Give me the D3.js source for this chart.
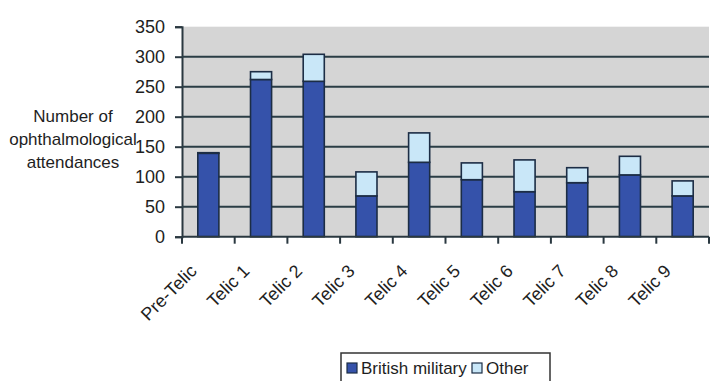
<!DOCTYPE html>
<html>
<head>
<meta charset="utf-8">
<script src="https://cdn.jsdelivr.net/npm/d3@7"></script>
<style>
  html, body { margin: 0; padding: 0; background: #fff; }
  svg { display: block; font-family: Arial, "Liberation Sans", sans-serif; }
</style>
</head>
<body>
<svg id="chart" width="717" height="381"></svg>
<script>
// Ophthalmological attendances per deployment period
const categories = ["Pre-Telic", "Telic 1", "Telic 2", "Telic 3", "Telic 4", "Telic 5", "Telic 6", "Telic 7", "Telic 8", "Telic 9"];
const britishMilitary = [139, 262, 259, 68, 124, 95, 75, 90, 103, 68];
const other = [1, 13, 45, 40, 49, 28, 53, 25, 31, 25];
const yTicks = [0, 50, 100, 150, 200, 250, 300, 350];
const seriesNames = ["British military", "Other"];
const seriesColors = ["#3552aa", "#c9e7f8"];

const svg = d3.select("#chart");
const plot = { left: 182, right: 709, top: 26.7, bottom: 236.7 };

const x = d3.scaleBand().domain(categories).range([plot.left, plot.right]).paddingInner(0.6).paddingOuter(0.3);
const xEdges = d3.scaleBand().domain(categories).range([plot.left, plot.right]);
const y = d3.scaleLinear().domain([0, 350]).range([plot.bottom, plot.top]);

// plot background
svg.append("rect")
  .attr("x", plot.left).attr("y", plot.top)
  .attr("width", plot.right - plot.left).attr("height", plot.bottom - plot.top)
  .attr("fill", "#d5d5d5");

// y axis with gridlines
const yAxis = d3.axisLeft(y).tickValues(yTicks).tickSize(7).tickPadding(10);
const gy = svg.append("g").attr("transform", `translate(${plot.left},0)`).call(yAxis);
gy.select(".domain").attr("stroke", "#2a3840").attr("stroke-width", 2);
gy.selectAll(".tick line").attr("stroke", "#2a3840").attr("stroke-width", 2)
  .attr("x2", -7);
gy.selectAll(".tick text").attr("font-size", 18).attr("fill", "#1e1e1e").attr("font-family", "Arial, 'Liberation Sans', sans-serif");

svg.append("g").selectAll("line.grid")
  .data(yTicks.filter(d => d > 0 && d < 350))
  .join("line")
  .attr("x1", plot.left).attr("x2", plot.right)
  .attr("y1", d => y(d)).attr("y2", d => y(d))
  .attr("stroke", "#2a3d45").attr("stroke-width", 2);

// stacked bars
const rows = categories.map((c, i) => ({ cat: c, "British military": britishMilitary[i], "Other": other[i] }));
const stacked = d3.stack().keys(seriesNames)(rows);
svg.append("g").selectAll("g")
  .data(stacked)
  .join("g")
  .attr("fill", (d, i) => seriesColors[i])
  .selectAll("rect")
  .data(d => d)
  .join("rect")
  .attr("x", d => x(d.data.cat))
  .attr("width", x.bandwidth())
  .attr("y", d => y(d[1]))
  .attr("height", d => y(d[0]) - y(d[1]))
  .attr("stroke", "#1c2d45").attr("stroke-width", 1.6);

// x axis
const gx = svg.append("g").attr("transform", `translate(0,${plot.bottom})`);
gx.append("line").attr("x1", plot.left).attr("x2", plot.right)
  .attr("stroke", "#2a3840").attr("stroke-width", 2);
gx.selectAll("line.tick")
  .data(categories.map(c => xEdges(c)).concat([plot.right]))
  .join("line")
  .attr("x1", d => d).attr("x2", d => d)
  .attr("y1", 0).attr("y2", 7)
  .attr("stroke", "#2a3840").attr("stroke-width", 2);

svg.append("g").selectAll("text")
  .data(categories)
  .join("text")
  .attr("transform", d => `translate(${x(d) + x.bandwidth() / 2 - 15},${plot.bottom + 31}) rotate(-45)`)
  .attr("text-anchor", "end")
  .attr("dy", "0.35em")
  .attr("font-size", 18)
  .attr("fill", "#1e1e1e")
  .text(d => d);

// y axis title
svg.append("text")
  .attr("text-anchor", "middle")
  .attr("font-size", 17)
  .attr("fill", "#1e1e1e")
  .selectAll("tspan")
  .data(["Number of", "ophthalmological", "attendances"])
  .join("tspan")
  .attr("x", 73)
  .attr("y", (d, i) => 122 + i * 23)
  .text(d => d);

// legend
const lg = svg.append("g");
lg.append("rect").attr("x", 341).attr("y", 353).attr("width", 209).attr("height", 40)
  .attr("fill", "#fff").attr("stroke", "#333").attr("stroke-width", 1.5);
const legendItems = [
  { name: seriesNames[0], color: seriesColors[0], x: 347 },
  { name: seriesNames[1], color: seriesColors[1], x: 472 }
];
legendItems.forEach(it => {
  lg.append("rect").attr("x", it.x).attr("y", 363).attr("width", 10).attr("height", 10)
    .attr("fill", it.color).attr("stroke", "#1c2d45").attr("stroke-width", 1.2);
  lg.append("text").attr("x", it.x + 14).attr("y", 374)
    .attr("font-size", 17).attr("fill", "#1e1e1e").text(it.name);
});
</script>
</body>
</html>
